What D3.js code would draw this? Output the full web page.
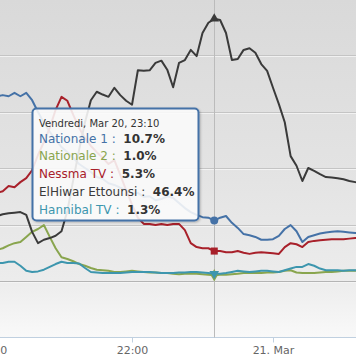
<!DOCTYPE html>
<html><head><meta charset="utf-8">
<script src="https://cdn.jsdelivr.net/npm/d3@7"></script>
<style>html,body{margin:0;padding:0;background:#fff;overflow:hidden}svg{display:block;font-family:"DejaVu Sans",Verdana,sans-serif}</style>
</head><body><svg id="c" width="356" height="364"></svg>
<script>
// ---- data (audience share %, 5-minute samples) ----
const times = ["20:05","20:10","20:15","20:20","20:25","20:30","20:35","20:40","20:45","20:50","20:55",
"21:00","21:05","21:10","21:15","21:20","21:25","21:30","21:35","21:40","21:45","21:50","21:55",
"22:00","22:05","22:10","22:15","22:20","22:25","22:30","22:35","22:40","22:45","22:50","22:55",
"23:00","23:05","23:10","23:15","23:20","23:25","23:30","23:35","23:40","23:45","23:50","23:55",
"00:00","00:05","00:10","00:15","00:20","00:25","00:30","00:35","00:40","00:45","00:50","00:55",
"01:00","01:05","01:10","01:15"];
const nationale1 = [32.7,32.9,32.7,33.3,32.7,33.3,32.0,29.9,28.0,26.4,25.0,23.7,22.8,21.8,20.7,20.0,19.3,18.4,18.1,17.3,17.0,16.5,16.1,15.4,15.6,14.9,15.0,14.3,14.5,15.0,14.7,13.8,12.9,12.2,11.7,11.3,11.2,10.7,11.2,11.5,10.3,9.4,8.3,8.1,7.8,7.3,7.3,7.4,8.0,9.2,9.9,8.8,6.9,7.8,8.1,8.4,8.6,8.7,8.8,8.7,8.6,8.5,8.5];
const nationale2 = [5.5,5.8,6.3,6.7,6.9,7.8,8.7,9.2,9.9,7.8,5.8,4.2,3.9,3.5,3.0,2.7,2.3,2.0,1.9,1.8,1.6,1.6,1.7,1.8,1.7,1.6,1.5,1.5,1.4,1.4,1.3,1.2,1.3,1.3,1.3,1.2,1.1,1.0,1.1,1.1,1.2,1.3,1.4,1.4,1.4,1.4,1.5,1.5,1.6,1.8,1.9,1.5,1.4,1.4,1.4,1.5,1.6,1.6,1.7,1.8,1.8,1.8,1.8];
const nessma = [15.6,15.9,16.8,16.6,17.5,18.2,19.6,22.3,24.6,27.1,30.3,32.6,31.9,29.4,27.1,25.3,23.9,22.8,21.8,20.7,21.4,18.8,16.1,13.5,11.2,10.1,10.1,9.9,10.1,9.9,10.1,10.1,9.0,6.7,6.0,5.8,5.8,5.3,5.3,5.1,5.1,5.3,5.0,4.8,5.0,5.1,5.0,4.9,4.8,6.0,6.7,6.5,6.0,6.9,7.1,7.2,7.3,7.4,7.4,7.4,7.5,7.6,7.6];
const elhiwar = [11.5,11.8,12.0,12.1,12.2,11.7,8.7,6.7,7.3,7.6,8.0,8.8,12.4,17.9,23.2,28.1,32.0,33.5,33.0,32.6,34.2,32.9,31.9,31.2,37.3,37.2,37.3,38.6,39.0,37.4,34.3,38.6,39.1,40.9,39.8,43.9,45.7,46.4,46.2,43.9,39.1,39.3,40.9,41.2,40.4,38.4,37.2,34.2,31.3,28.1,22.1,20.4,17.7,20.0,19.5,18.9,18.4,18.3,18.2,18.0,17.7,17.5,17.3];
const hannibal = [3.2,3.2,3.4,3.4,2.7,1.8,1.6,1.7,2.0,2.5,3.0,3.4,3.2,3.2,3.1,2.3,1.6,1.5,1.4,1.4,1.4,1.4,1.5,1.6,1.6,1.6,1.6,1.5,1.4,1.4,1.4,1.5,1.5,1.6,1.6,1.5,1.4,1.3,1.3,1.4,1.6,1.8,1.7,1.6,1.7,1.8,1.8,1.7,1.6,1.9,2.2,2.5,2.5,3.0,2.7,2.2,1.9,1.9,1.9,1.8,1.9,1.9,1.9];
const seriesNames = ["Nationale 1","Nationale 2","Nessma TV","ElHiwar Ettounsi","Hannibal TV"];
const seriesColors = ["#4572A7","#89A54E","#A8202A","#3a3a3a","#3D96AE"];
const seriesSymbols = ["circle","diamond","square","triangle","triangle-down"];
const yTicks = [0,10,20,30,40];
const xTickTimes = ["20:00","22:00","00:00"];
const hoverTime = "23:10";
const tooltipHeader = "Vendredi, Mar 20, 23:10";

// ---- helpers ----
function toDate(s){const [h,m]=s.split(":").map(Number);return new Date(Date.UTC(2015,2,h<12?21:20,h,m));}
const allSeries=[nationale1,nationale2,nessma,elhiwar,hannibal];

const W=356,H=364, plotBottom=337.5;
const svg=d3.select("#c");
const defs=svg.append("defs");
const grad=defs.append("linearGradient").attr("id","bg").attr("x1",0).attr("y1",0).attr("x2",0).attr("y2",1);
grad.append("stop").attr("offset","0").attr("stop-color","#d9d9d9");
grad.append("stop").attr("offset","0.5").attr("stop-color","#e3e3e3");
grad.append("stop").attr("offset","0.83").attr("stop-color","#ececec");
grad.append("stop").attr("offset","1").attr("stop-color","#f9f9f9");
const sh=defs.append("filter").attr("id","sh").attr("x","-10%").attr("y","-10%").attr("width","130%").attr("height","130%");
sh.append("feDropShadow").attr("dx",1).attr("dy",1).attr("stdDeviation",1.2).attr("flood-color","#000").attr("flood-opacity",0.25);

svg.append("rect").attr("x",0).attr("y",0).attr("width",W).attr("height",plotBottom).attr("fill","url(#bg)");

const x=d3.scaleUtc().domain([toDate("20:00"),toDate("01:00")]).range([-9,343.5]);
const y=d3.scaleLinear().domain([-10,50]).range([plotBottom,-1.5]);

// grid
const grid=svg.append("g").call(d3.axisLeft(y).tickValues(yTicks).tickSize(-W).tickFormat(""));
grid.select(".domain").remove();
grid.selectAll(".tick line").attr("stroke","#c4c4c4").attr("shape-rendering","crispEdges");
grid.selectAll(".tick").append("line").attr("x1",0).attr("x2",W).attr("y1",1).attr("y2",1).attr("stroke","#f6f6f6").attr("stroke-opacity",0.8).attr("shape-rendering","crispEdges");
grid.selectAll(".tick").filter(d=>d===0).select("line").attr("stroke","#b4b4b4");

// x axis
const xa=svg.append("g").attr("transform",`translate(0,${plotBottom})`)
 .call(d3.axisBottom(x).tickValues(xTickTimes.map(toDate)).tickSize(5).tickPadding(4)
   .tickFormat(d=>d.getUTCHours()===0?"21. Mar":d3.utcFormat("%H:%M")(d)));
xa.select(".domain").remove();
xa.insert("line",":first-child").attr("x1",0).attr("x2",W).attr("y1",0).attr("y2",0).attr("stroke","#C0D0E0");
xa.selectAll(".tick line").attr("stroke","#C0D0E0");
xa.selectAll(".tick text").attr("fill","#666").attr("font-size","11px").attr("font-family","DejaVu Sans");

// crosshair
const hx=x(toDate(hoverTime));
svg.append("line").attr("x1",Math.round(hx)+0.5).attr("x2",Math.round(hx)+0.5).attr("y1",0).attr("y2",plotBottom).attr("stroke","#bbb");

// lines
const line=d3.line().x((d,i)=>x(toDate(times[i]))).y(d=>y(d));
allSeries.forEach((s,i)=>{
  svg.append("path").datum(s).attr("d",line).attr("fill","none").attr("stroke",seriesColors[i])
   .attr("stroke-width",2).attr("stroke-linejoin","round").attr("stroke-linecap","round");
});

// hover markers
const hi=times.indexOf(hoverTime);
const symMap={circle:d3.symbolCircle,diamond:d3.symbolDiamond,square:d3.symbolSquare,triangle:d3.symbolTriangle,"triangle-down":d3.symbolTriangle};
allSeries.forEach((s,i)=>{
  const t=seriesSymbols[i];
  const size=t==="circle"?50:t==="square"?50:t==="diamond"?45:40;
  svg.append("path").attr("d",d3.symbol(symMap[t],size)())
   .attr("transform",`translate(${hx},${y(s[hi])})${t==="triangle-down"?" rotate(180)":""}`)
   .attr("fill",seriesColors[i]);
});

// tooltip
const tt=svg.append("g");
tt.append("rect").attr("x",32.5).attr("y",108.5).attr("width",166).attr("height",112).attr("rx",4)
 .attr("fill","rgba(255,255,255,0.85)").attr("stroke","#4572A7").attr("stroke-width",2).attr("filter","url(#sh)");
tt.append("text").attr("x",39).attr("y",127).attr("font-size","10px").attr("fill","#333").text(tooltipHeader);
seriesNames.forEach((n,i)=>{
  const t=tt.append("text").attr("x",39).attr("y",142.5+i*17.8).attr("font-size","12px").attr("xml:space","preserve");
  t.append("tspan").attr("fill",seriesColors[i]).text(n+" :  ");
  t.append("tspan").attr("fill","#333").attr("font-weight","bold").text(allSeries[i][hi].toFixed(1)+"%");
});
</script></body></html>
